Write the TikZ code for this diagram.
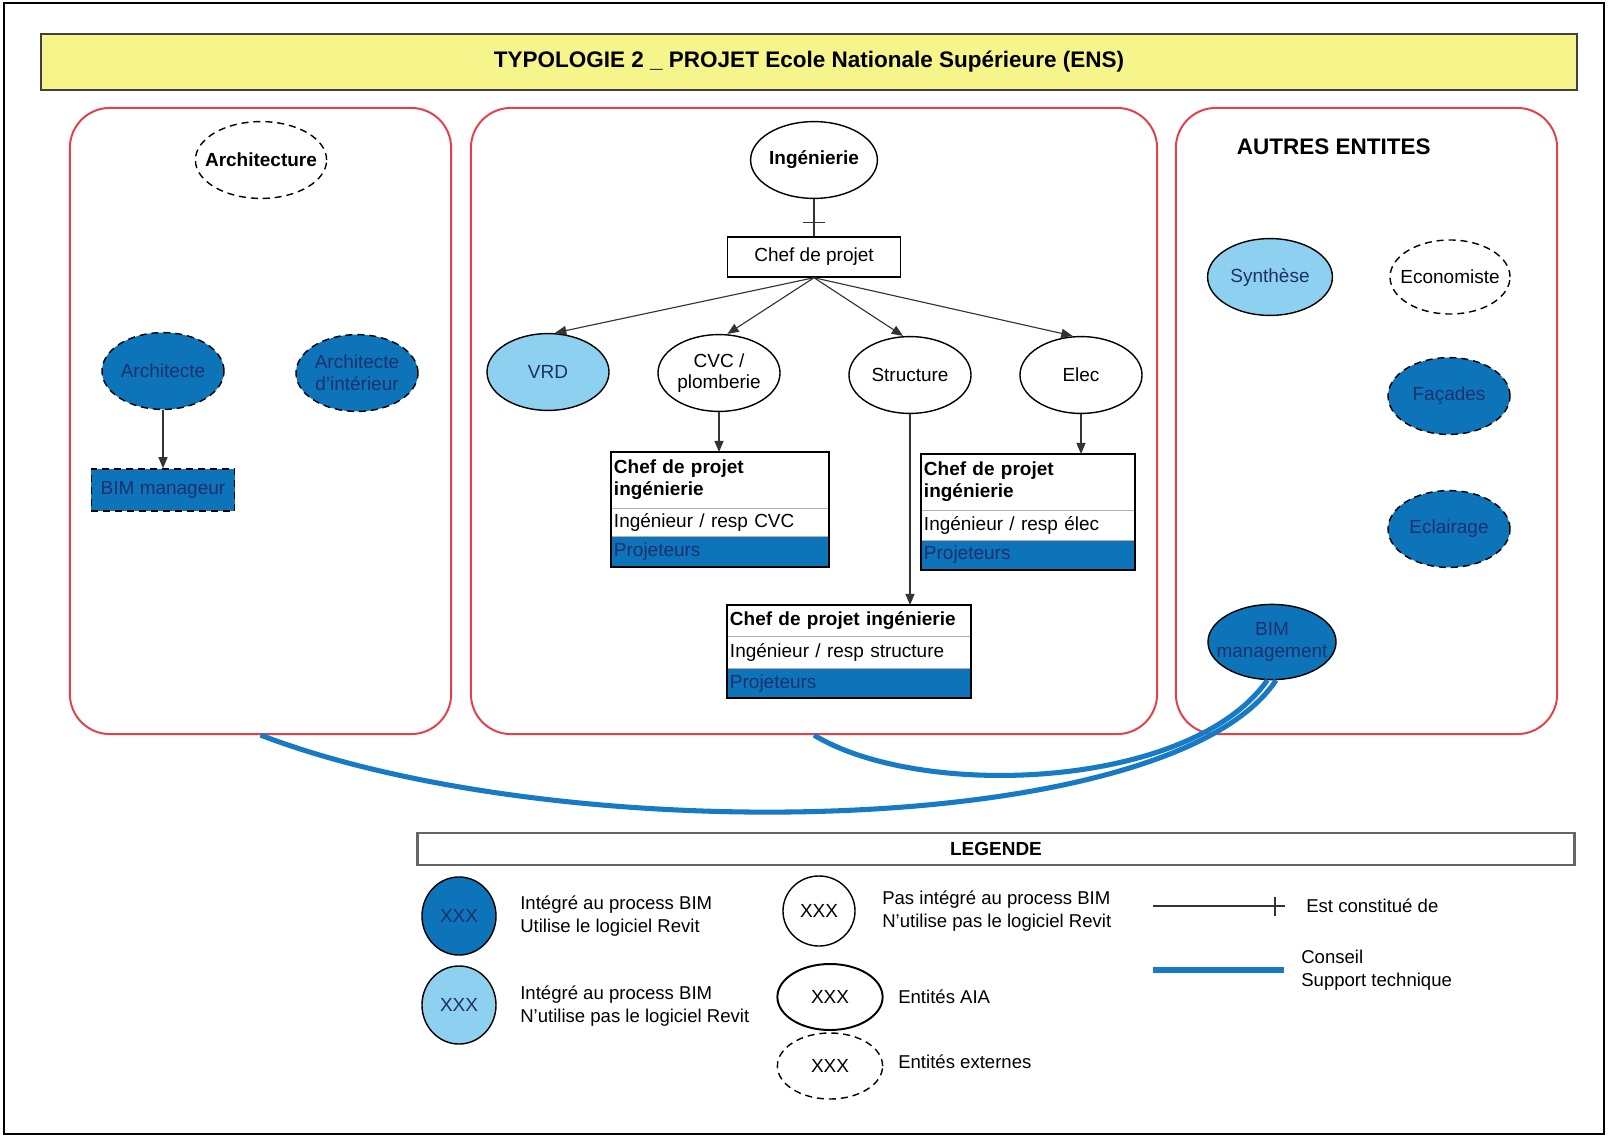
\documentclass[tikz,border=0pt]{standalone}
\usepackage{fontspec}
\setmainfont{Liberation Sans}
\usepackage{xcolor}
\usepackage{tikz}
\usetikzlibrary{calc, shapes.geometric, arrows.meta}

\definecolor{bimfonce}{RGB}{14,116,186}
\definecolor{bimclair}{RGB}{142,208,240}
\definecolor{cadrerouge}{RGB}{228,64,74}
\definecolor{jaunetitre}{RGB}{245,245,140}
\definecolor{traitconseil}{RGB}{24,122,196}
\definecolor{textefonce}{RGB}{28,48,108}

\newcommand{\taillenoeud}{\fontsize{13.5}{15.5}\selectfont}
\newcommand{\taillelegende}{\fontsize{13.2}{16}\selectfont}

\tikzset{
  panneau/.style={draw=cadrerouge, line width=1.4pt, rounded corners=1cm, rectangle},
  entite/.style={ellipse, draw=black, line width=1pt, inner sep=0pt, minimum width=3.05cm,
    minimum height=1.92cm, align=center, font=\taillenoeud, fill=white},
  serre/.style={inner xsep=-12pt},
  pointille/.style={dash pattern=on 5pt off 3.5pt},
  integre/.style={entite, fill=bimfonce, text=textefonce, pointille},
  integreclair/.style={entite, fill=bimclair, text=textefonce},
  externe/.style={entite, pointille},
  ligne/.style={rectangle, draw=gray!60, line width=0.6pt, inner xsep=2pt, inner ysep=0pt,
    outer sep=0pt, align=left, font=\taillenoeud, anchor=north},
  fleche/.style={->, line width=0.8pt, draw=black!80},
  conseil/.style={draw=traitconseil, line width=3.6pt},
  legende/.style={anchor=west, align=left, font=\taillelegende, inner sep=0pt}
}

\begin{document}
\begin{tikzpicture}[x=0.025cm, y=-0.025cm, >={Triangle[length=8pt,width=6.5pt]}]
  \useasboundingbox (0,0) rectangle (1608,1137);

  % =================================================================
  % 1. CADRE, TITRE ET PANNEAUX
  % =================================================================
  \draw[line width=1.2pt] (4,3) rectangle (1604,1134);

  \node[draw=black!75, line width=1.5pt, fill=jaunetitre, minimum width=38.4cm, minimum height=1.4cm,
    font=\bfseries\fontsize{16}{18}\selectfont] (titre) at (809,62)
    {TYPOLOGIE 2 \_ PROJET Ecole Nationale Supérieure (ENS)};

  \node[panneau, minimum width=9.53cm, minimum height=15.65cm] (panelL) at (260.5,421) {};
  \node[panneau, minimum width=17.15cm, minimum height=15.65cm] (panelC) at (814,421) {};
  \node[panneau, minimum width=9.53cm, minimum height=15.65cm] (panelR) at (1366.5,421) {};

  % =================================================================
  % 2. ARCHITECTURE
  % =================================================================
  \node[externe, serre, minimum width=3.28cm, font=\bfseries\taillenoeud] (archiG) at (261,160) {Architecture};
  \node[integre] (archi) at (163,371) {Architecte};
  \node[integre] (archiInt) at (357,373) {Architecte\\d'intérieur};
  \node[integre, rectangle, minimum width=3.58cm, minimum height=1.05cm] (bimMgr) at (163,490) {BIM manageur};
  \draw[fleche] (archi) -- (bimMgr);

  % =================================================================
  % 3. INGENIERIE
  % =================================================================
  \node[entite, font=\bfseries\taillenoeud] (ing) at (814,160) {Ingénierie};
  \node[draw, line width=1pt, fill=white, minimum width=4.33cm, minimum height=1cm,
    font=\taillenoeud] (chef) at (814,257) {Chef de projet};
  \draw[line width=0.8pt, draw=black!80] (ing) -- (chef) coordinate[pos=0.62] (trait);
  \draw[line width=0.8pt, draw=black!80] ($(trait)+(-11,0)$) -- ($(trait)+(11,0)$);

  \node[integreclair] (vrd) at (548,372) {VRD};
  \node[entite] (cvc) at (719,373) {CVC /\\plomberie};
  \node[entite] (struct) at (910,375) {Structure};
  \node[entite] (elec) at (1081,375) {Elec};

  \draw[fleche] (chef.south) -- ([xshift=5pt]vrd.north);
  \draw[fleche] (chef.south) -- ([xshift=6pt]cvc.north);
  \draw[fleche] (chef.south) -- ([xshift=-5pt]struct.north);
  \draw[fleche] (chef.south) -- ([xshift=-6pt]elec.north);

  % Equipe CVC
  \node[ligne, minimum width=5.45cm, text width=5.3cm, minimum height=1.4cm, font=\bfseries\taillenoeud]
    (cvcH) at (720,452) {Chef de projet\\ingénierie};
  \node[ligne, minimum width=5.45cm, text width=5.3cm, minimum height=0.7cm] (cvcM) at (cvcH.south) {Ingénieur / resp CVC};
  \node[ligne, minimum width=5.45cm, text width=5.3cm, minimum height=0.78cm, fill=bimfonce, text=textefonce]
    (cvcB) at (cvcM.south) {Projeteurs};
  \draw[line width=1.3pt] (cvcH.north west) rectangle (cvcB.south east);
  \draw[fleche] (cvc.south) -- (cvcH.north -| cvc.south);

  % Equipe electricite
  \node[ligne, minimum width=5.35cm, text width=5.2cm, minimum height=1.4cm, font=\bfseries\taillenoeud]
    (elecH) at (1028,454) {Chef de projet\\ingénierie};
  \node[ligne, minimum width=5.35cm, text width=5.2cm, minimum height=0.75cm] (elecM) at (elecH.south) {Ingénieur / resp élec};
  \node[ligne, minimum width=5.35cm, text width=5.2cm, minimum height=0.75cm, fill=bimfonce, text=textefonce]
    (elecB) at (elecM.south) {Projeteurs};
  \draw[line width=1.3pt] (elecH.north west) rectangle (elecB.south east);
  \draw[fleche] (elec.south) -- (elecH.north -| elec.south);

  % Equipe structure
  \node[ligne, minimum width=6.1cm, text width=5.95cm, minimum height=0.78cm, font=\bfseries\taillenoeud]
    (structH) at (849,605) {Chef de projet ingénierie};
  \node[ligne, minimum width=6.1cm, text width=5.95cm, minimum height=0.8cm] (structM) at (structH.south) {Ingénieur / resp structure};
  \node[ligne, minimum width=6.1cm, text width=5.95cm, minimum height=0.75cm, fill=bimfonce, text=textefonce]
    (structB) at (structM.south) {Projeteurs};
  \draw[line width=1.3pt] (structH.north west) rectangle (structB.south east);
  \draw[fleche] (struct.south) -- (structH.north -| struct.south);

  % =================================================================
  % 4. AUTRES ENTITES
  % =================================================================
  \node[anchor=west, font=\bfseries\fontsize{16}{18}\selectfont] (autres) at (1232,147) {AUTRES ENTITES};
  \node[integreclair, minimum width=3.12cm] (synth) at (1270,277) {Synthèse};
  \node[externe, serre, minimum width=3cm, minimum height=1.85cm] (eco) at (1450,277) {Economiste};
  \node[integre] (facades) at (1449,396) {Façades};
  \node[integre] (eclair) at (1449,529) {Eclairage};
  \node[integre, solid, serre, minimum width=3.2cm, minimum height=1.88cm] (bimM) at (1272,642) {BIM\\management};

  % Liens conseil / support technique
  \draw[conseil] (panelC.south) .. controls (920,800) and (1190,790) .. (bimM.-97);
  \draw[conseil] (panelL.south) .. controls (560,850) and (1170,840) .. (bimM.-84);

  % =================================================================
  % 5. LEGENDE
  % =================================================================
  \node[draw=gray!80!black, line width=2pt, fill=white, minimum width=28.9cm, minimum height=0.8cm,
    font=\bfseries\taillenoeud] (leg) at (996,849) {LEGENDE};

  \node[integre, solid, minimum width=1.85cm, minimum height=1.95cm] (legFonce) at (459,916) {XXX};
  \node[legende] (legFonceT) at (520,916) {Intégré au process BIM\\Utilise le logiciel Revit};
  \node[integreclair, minimum width=1.85cm, minimum height=1.95cm] (legClair) at (459,1005) {XXX};
  \node[legende] (legClairT) at (520,1006) {Intégré au process BIM\\N'utilise pas le logiciel Revit};

  \node[entite, minimum width=1.8cm, minimum height=1.75cm] (legHors) at (819,911) {XXX};
  \node[legende] (legHorsT) at (882,911) {Pas intégré au process BIM\\N'utilise pas le logiciel Revit};
  \node[entite, line width=1.4pt, minimum width=2.63cm, minimum height=1.65cm] (legAIA) at (830,997) {XXX};
  \node[legende] (legAIAT) at (898,997) {Entités AIA};
  \node[externe, minimum width=2.63cm, minimum height=1.65cm] (legExt) at (830,1066) {XXX};
  \node[legende] (legExtT) at (898,1062) {Entités externes};

  \coordinate (constA) at (1153,906);
  \coordinate (constB) at (1285,906);
  \draw[line width=0.8pt, draw=black!80] (constA) -- (constB);
  \draw[line width=0.8pt, draw=black!80] (1275,897) -- (1275,916);
  \node[legende] (legConstT) at (1306,906) {Est constitué de};

  \coordinate (conseilA) at (1153,970);
  \coordinate (conseilB) at (1284,970);
  \draw[conseil] (conseilA) -- (conseilB);
  \node[legende] (legConseilT) at (1301,970) {Conseil\\Support technique};

\end{tikzpicture}
\end{document}
